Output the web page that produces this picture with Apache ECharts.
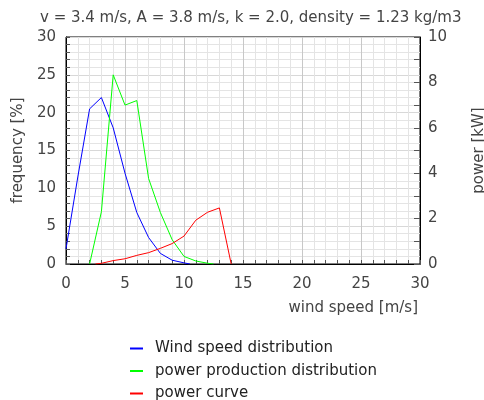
<!DOCTYPE html>
<html>
<head>
<meta charset="utf-8">
<script src="https://cdn.jsdelivr.net/npm/echarts@6/dist/echarts.min.js"></script>
<style>
html,body{margin:0;padding:0;background:#fff;}
#chart{width:484px;height:400px;}
</style>
</head>
<body>
<div id="chart"></div>
<script>
// Data
var subtitleText = 'v = 3.4 m/s, A = 3.8 m/s, k = 2.0, density = 1.23 kg/m3';
var seriesNames = ['Wind speed distribution', 'power production distribution', 'power curve'];

var windX = [0, 1, 2, 3, 4, 5, 6, 7, 8, 9, 10, 10.5];
var windFreq = [2, 11.5, 20.5, 22, 18, 12, 6.8, 3.5, 1.4, 0.5, 0.15, 0];

var prodX = [2, 3, 4, 5, 6, 7, 8, 9, 10, 11, 12, 12.5];
var prodFreq = [0, 6.9, 25, 21, 21.6, 11.3, 6.8, 3.2, 1.0, 0.4, 0.1, 0];

var powerX = [2.5, 3, 4, 5, 6, 7, 8, 9, 10, 11, 12, 13, 14];
var powerKW = [0, 0.03, 0.15, 0.23, 0.38, 0.5, 0.69, 0.9, 1.23, 1.93, 2.28, 2.47, 0];

function pairs(xs, ys) {
  return xs.map(function (x, i) { return [x, ys[i]]; });
}

var FONT = 'DejaVu Sans';
var FS = 15;
var chart = echarts.init(document.getElementById('chart'), null, {renderer: 'canvas'});

var labelStyle = {color: '#444', fontFamily: FONT, fontSize: FS};

chart.setOption({
  animation: false,
  backgroundColor: '#fff',
  title: {
    text: subtitleText,
    left: 40,
    top: 11,
    padding: 0,
    textStyle: {color: '#444', fontFamily: FONT, fontSize: FS, fontWeight: 'normal'}
  },
  grid: {
    left: 66, right: 64, top: 37, bottom: 136,
    containLabel: false,
    outerBoundsMode: 'none',
    show: true, borderColor: '#000', borderWidth: 1, backgroundColor: 'transparent'
  },
  legend: {
    orient: 'vertical',
    left: 130,
    top: 341,
    height: 120,
    padding: 0,
    icon: 'rect',
    itemWidth: 13,
    itemHeight: 2,
    itemGap: 7.5,
    data: seriesNames,
    textStyle: {color: '#222', fontFamily: FONT, fontSize: FS, lineHeight: 15, padding: [0, 0, 0, 7]}
  },
  xAxis: {
    type: 'value',
    min: 0, max: 30, interval: 5,
    name: 'wind speed [m/s]',
    nameLocation: 'end',
    nameGap: -2,
    nameTextStyle: {color: '#444', fontFamily: FONT, fontSize: FS, align: 'right', verticalAlign: 'top', padding: [37, 0, 0, 0]},
    axisLine: {show: true, onZero: false, lineStyle: {color: '#000', width: 1}},
    axisTick: {show: true, inside: true, length: 4, lineStyle: {color: '#555'}},
    minorTick: {show: true, splitNumber: 5, length: 4, lineStyle: {color: '#555'}},
    axisLabel: Object.assign({margin: 13}, labelStyle),
    splitLine: {show: true, lineStyle: {color: '#c8c8c8', width: 1}},
    minorSplitLine: {show: true, lineStyle: {color: '#e4e4e4', width: 1}}
  },
  yAxis: [{
    type: 'value',
    min: 0, max: 30, interval: 5,
    position: 'left',
    name: 'frequency [%]',
    nameLocation: 'middle',
    nameGap: 40,
    nameTextStyle: {color: '#444', fontFamily: FONT, fontSize: FS},
    axisLine: {show: true, lineStyle: {color: '#000', width: 1}},
    axisTick: {show: true, inside: true, length: 4, lineStyle: {color: '#555'}},
    minorTick: {show: true, splitNumber: 5, length: 4, lineStyle: {color: '#555'}},
    axisLabel: Object.assign({margin: 10}, labelStyle),
    splitLine: {show: true, lineStyle: {color: '#d8d8d8', width: 1}},
    minorSplitLine: {show: true, lineStyle: {color: '#e4e4e4', width: 1}}
  }, {
    type: 'value',
    min: 0, max: 10, interval: 2,
    position: 'right',
    name: 'power [kW]',
    nameLocation: 'middle',
    nameGap: 52,
    nameTextStyle: {color: '#444', fontFamily: FONT, fontSize: FS},
    axisLine: {show: true, lineStyle: {color: '#000', width: 1}},
    axisTick: {show: true, inside: true, length: 6, lineStyle: {color: '#555'}},
    minorTick: {show: true, splitNumber: 2, length: 6, lineStyle: {color: '#555'}},
    axisLabel: Object.assign({margin: 8}, labelStyle),
    splitLine: {show: false},
    minorSplitLine: {show: false}
  }],
  series: [{
    name: seriesNames[0],
    type: 'line',
    yAxisIndex: 0,
    data: pairs(windX, windFreq),
    showSymbol: false,
    color: '#0000ff',
    lineStyle: {color: '#0000ff', width: 1}
  }, {
    name: seriesNames[1],
    type: 'line',
    yAxisIndex: 0,
    data: pairs(prodX, prodFreq),
    showSymbol: false,
    color: '#00ff00',
    lineStyle: {color: '#00ff00', width: 1}
  }, {
    name: seriesNames[2],
    type: 'line',
    yAxisIndex: 1,
    data: pairs(powerX, powerKW),
    showSymbol: false,
    color: '#ff0000',
    lineStyle: {color: '#ff0000', width: 1}
  }]
});
</script>
</body>
</html>
